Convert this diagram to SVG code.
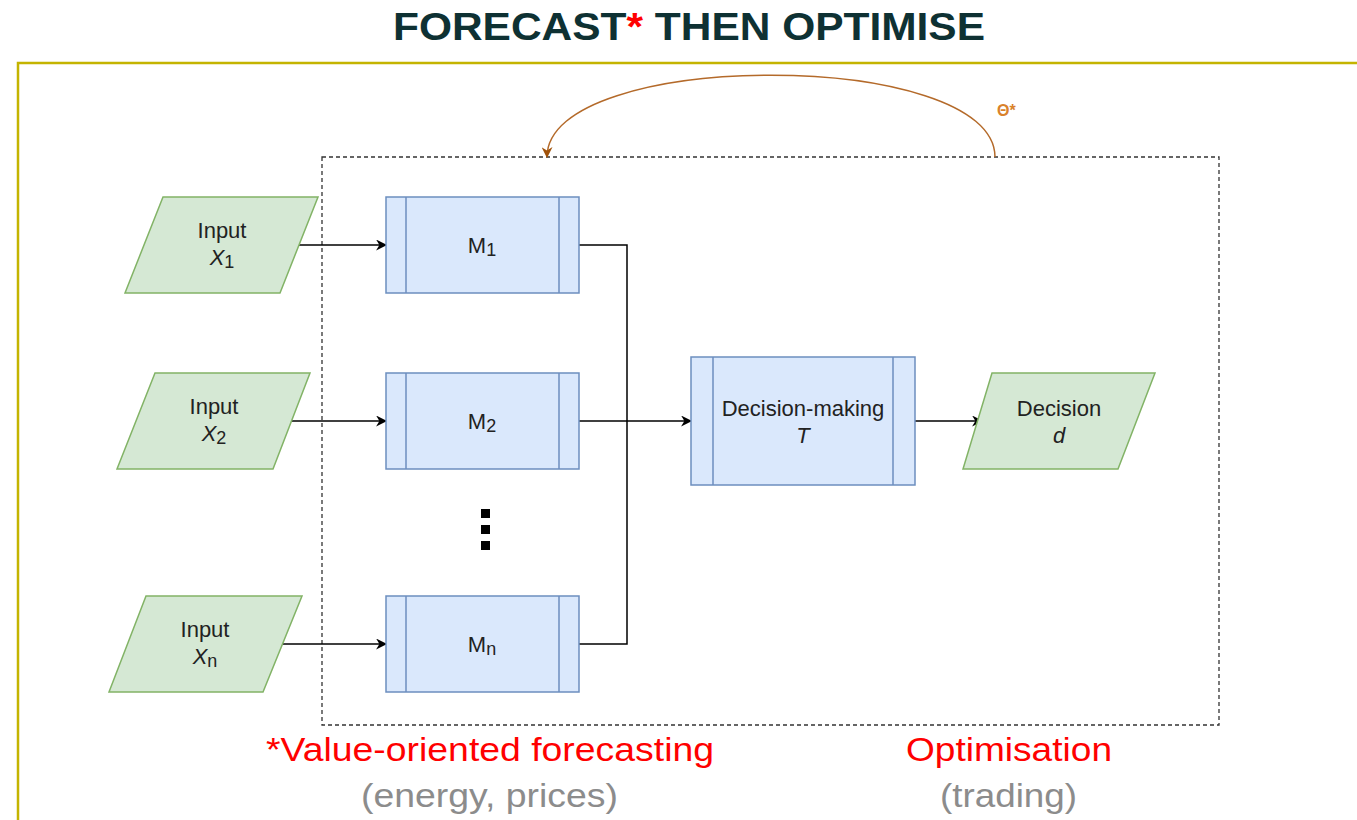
<svg xmlns="http://www.w3.org/2000/svg" width="1357" height="820" viewBox="0 0 1357 820">
<defs>
<style>
.t{font-family:"Liberation Sans",Arial,Helvetica,sans-serif;}
.in{fill:#d5e8d4;stroke:#82b366;stroke-width:1.5;}
.pr{fill:#dae8fc;stroke:#6c8ebf;stroke-width:1.5;}
.nt{font-family:"Liberation Sans",Arial,Helvetica,sans-serif;font-size:22px;fill:#222;text-anchor:middle;}
.sub{font-size:18px;}
.conn{fill:none;stroke:#000;stroke-width:1.5;}
</style>
<marker id="ah" viewBox="0 0 10 10" refX="9" refY="5" markerWidth="13" markerHeight="11" markerUnits="userSpaceOnUse" orient="auto">
<path d="M0,0 L10,5 L0,10 L3,5 Z" fill="#000"/>
</marker>
<marker id="ahb" viewBox="0 0 10 10" refX="9" refY="5" markerWidth="13" markerHeight="11" markerUnits="userSpaceOnUse" orient="auto">
<path d="M0,0 L10,5 L0,10 L3,5 Z" fill="#a0520a"/>
</marker>
</defs>
<rect width="1357" height="820" fill="#fff"/>
<text class="t" x="393" y="40" font-size="39" font-weight="bold" fill="#0e3133" textLength="592" lengthAdjust="spacingAndGlyphs">FORECAST<tspan fill="#ff0000">*</tspan> THEN OPTIMISE</text>
<path d="M18,830 L18,63 L1370,63" fill="none" stroke="#c4b400" stroke-width="2.5"/>
<rect id="boundary" x="322" y="157" width="897" height="568" fill="none" stroke="#333" stroke-width="1.3" stroke-dasharray="4,3"/>
<g id="connectors">
<line class="conn" x1="299" y1="245" x2="386" y2="245" marker-end="url(#ah)"/>
<line class="conn" x1="291" y1="421" x2="386" y2="421" marker-end="url(#ah)"/>
<line class="conn" x1="277" y1="644" x2="386" y2="644" marker-end="url(#ah)"/>
<path class="conn" d="M579,245 H627 V421"/>
<path class="conn" d="M579,644 H627 V421"/>
<line class="conn" x1="579" y1="421" x2="691" y2="421" marker-end="url(#ah)"/>
<line class="conn" x1="915" y1="421" x2="982" y2="421" marker-end="url(#ah)"/>
<path d="M995,157 C995,48 547,48 547,157" fill="none" stroke="#b46a2a" stroke-width="1.5" marker-end="url(#ahb)"/>
<text class="t" x="997" y="116" font-size="16" font-weight="bold" fill="#d9822b">Θ*</text>
</g>
<g id="input1">
<polygon class="in" points="163,197 318,197 280,293 125,293"/>
<text class="nt" x="222" y="238">Input</text>
<text class="nt" x="222" y="265"><tspan font-style="italic">X</tspan><tspan class="sub" dy="3">1</tspan></text>
</g>
<g id="input2">
<polygon class="in" points="155,373 310,373 273,469 117,469"/>
<text class="nt" x="214" y="414">Input</text>
<text class="nt" x="214" y="441"><tspan font-style="italic">X</tspan><tspan class="sub" dy="3">2</tspan></text>
</g>
<g id="inputn">
<polygon class="in" points="146,596 302,596 263,692 109,692"/>
<text class="nt" x="205" y="637">Input</text>
<text class="nt" x="205" y="664"><tspan font-style="italic">X</tspan><tspan class="sub" dy="3">n</tspan></text>
</g>
<g id="m1">
<rect class="pr" x="386" y="197" width="193" height="96"/>
<line class="pr" x1="406" y1="197" x2="406" y2="293"/>
<line class="pr" x1="559" y1="197" x2="559" y2="293"/>
<text class="nt" x="482" y="253">M<tspan class="sub" dy="3">1</tspan></text>
</g>
<g id="m2">
<rect class="pr" x="386" y="373" width="193" height="96"/>
<line class="pr" x1="406" y1="373" x2="406" y2="469"/>
<line class="pr" x1="559" y1="373" x2="559" y2="469"/>
<text class="nt" x="482" y="429">M<tspan class="sub" dy="3">2</tspan></text>
</g>
<g id="dots" fill="#000">
<rect x="481" y="509" width="9" height="9"/>
<rect x="481" y="525" width="9" height="9"/>
<rect x="481" y="541" width="9" height="9"/>
</g>
<g id="mn">
<rect class="pr" x="386" y="596" width="193" height="96"/>
<line class="pr" x1="406" y1="596" x2="406" y2="692"/>
<line class="pr" x1="559" y1="596" x2="559" y2="692"/>
<text class="nt" x="482" y="652">M<tspan class="sub" dy="3">n</tspan></text>
</g>
<g id="decision-making">
<rect class="pr" x="691" y="357" width="224" height="128"/>
<line class="pr" x1="713" y1="357" x2="713" y2="485"/>
<line class="pr" x1="893" y1="357" x2="893" y2="485"/>
<text class="nt" x="803" y="416">Decision-making</text>
<text class="nt" x="803" y="443" font-style="italic">T</text>
</g>
<g id="decision">
<polygon class="in" points="992,373 1155,373 1118,469 963,469"/>
<text class="nt" x="1059" y="416">Decision</text>
<text class="nt" x="1059" y="443" font-style="italic">d</text>
</g>
<g id="labels" class="t">
<text x="266" y="761" font-size="34" fill="#ff0000" textLength="448" lengthAdjust="spacingAndGlyphs">*Value-oriented forecasting</text>
<text x="361" y="807" font-size="34" fill="#8c8c8c" textLength="257" lengthAdjust="spacingAndGlyphs">(energy, prices)</text>
<text x="906" y="761" font-size="34" fill="#ff0000" textLength="206" lengthAdjust="spacingAndGlyphs">Optimisation</text>
<text x="940" y="807" font-size="34" fill="#8c8c8c" textLength="137" lengthAdjust="spacingAndGlyphs">(trading)</text>
</g>
</svg>
